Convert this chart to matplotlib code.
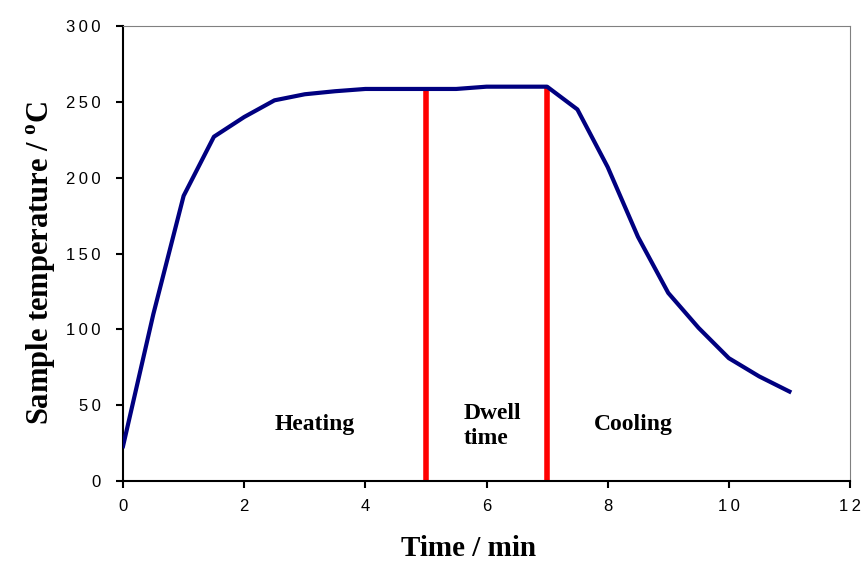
import matplotlib.pyplot as plt

plt.rcParams["mathtext.fontset"] = "custom"
plt.rcParams["mathtext.rm"] = "Liberation Serif"
plt.rcParams["mathtext.bf"] = "Liberation Serif:bold"

# sample temperature profile
time_min = [0, 0.5, 1, 1.5, 2, 2.5, 3, 3.5, 4, 4.5, 5, 5.5, 6, 6.5, 7,
            7.5, 8, 8.5, 9, 9.5, 10, 10.5, 11]
temp_c = [23, 110, 188, 227, 240, 251, 255, 257, 258.5, 258.5, 258.5, 258.5,
          260, 260, 260, 245, 207, 161, 124, 101, 81, 69, 59]

boundaries = [5, 7]
boundary_top = 260

phases = ["Heating", "Dwell\ntime", "Cooling"]
phase_x = [3.17, 5.63, 8.43]
phase_y = [37, 36, 37]
phase_ha = ["center", "left", "center"]

x_ticks = list(range(0, 13, 2))
y_ticks = list(range(0, 301, 50))


def spaced(v):
    # excel-ish spread digits
    return "\u2009".join(str(v))


fig = plt.figure(figsize=(8.64, 5.63), dpi=100)
ax = fig.add_axes([0.1424, 0.1456, 0.8414, 0.8082])

ax.plot(time_min, temp_c, color="#000080", linewidth=3, zorder=3)
ax.vlines(boundaries, 0, boundary_top, color="#ff0000", linewidth=4, zorder=2)

for label, x, y, ha in zip(phases, phase_x, phase_y, phase_ha):
    ax.text(x, y, label, ha=ha, va="center", family="Liberation Serif",
            fontweight="bold", fontsize=17, linespacing=1.25)

ax.set_xlim(0, 12)
ax.set_ylim(0, 300)
ax.set_xticks(x_ticks)
ax.set_xticklabels([spaced(v) for v in x_ticks])
ax.set_yticks(y_ticks)
ax.set_yticklabels([spaced(v) for v in y_ticks])

ax.spines["top"].set_color("#808080")
ax.spines["right"].set_color("#808080")
ax.spines["left"].set_linewidth(1.5)
ax.spines["bottom"].set_linewidth(1.5)

ax.tick_params(direction="out", length=5, width=1.5, labelsize=12)
for t in ax.get_xticklabels() + ax.get_yticklabels():
    t.set_family(["Liberation Sans", "DejaVu Sans"])
ax.tick_params(axis="x", pad=8)
ax.tick_params(axis="y", pad=11)

ax.set_xlabel("Time / min", family="Liberation Serif", fontweight="bold",
              fontsize=21)
ax.xaxis.set_label_coords(0.475, -0.118)
ax.set_ylabel(r"Sample temperature / $^{\mathbf{o}}$C", family="Liberation Serif",
              fontweight="bold", fontsize=22)
ax.yaxis.set_label_coords(-0.09, 0.479)

fig.savefig("out.png", dpi=100)
